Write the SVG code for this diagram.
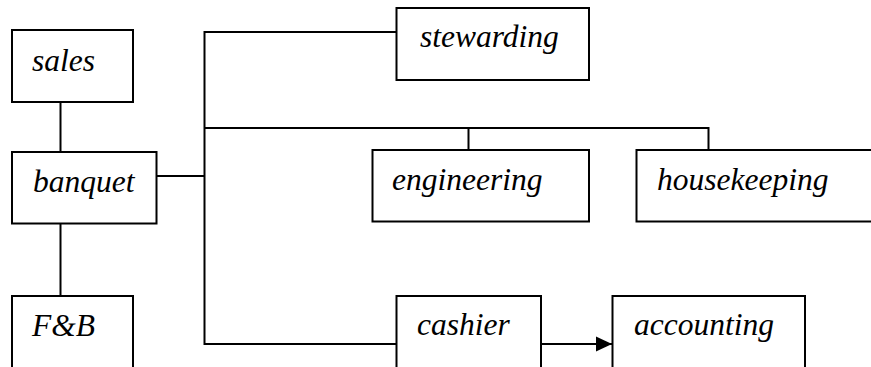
<svg xmlns="http://www.w3.org/2000/svg" width="871" height="367" viewBox="0 0 871 367">
<style>
.box{fill:#fff;stroke:#000;stroke-width:2}
.ln{fill:none;stroke:#000;stroke-width:2}
.t{font-family:'Liberation Serif', 'Times New Roman', serif;font-style:italic;font-size:31.5px;fill:#000}
</style>
<defs>
<marker id="arr" markerUnits="userSpaceOnUse" markerWidth="16" markerHeight="16" refX="16" refY="8" orient="auto">
<path d="M0,0.5 L16,8 L0,15.5 Z" fill="#000"/>
</marker>
</defs>
<rect width="871" height="367" fill="#fff"/>
<g id="connectors">
<path class="ln" d="M60.5,102 V152"/>
<path class="ln" d="M60.5,223.5 V296"/>
<path class="ln" d="M156.5,176 H204.5"/>
<path class="ln" d="M396.5,32 H204.5 V344 H396.5"/>
<path class="ln" d="M204.5,128 H708.5 V150"/>
<path class="ln" d="M468.5,128 V150"/>
<path class="ln" d="M541,344 H612" marker-end="url(#arr)"/>
</g>
<g id="sales"><rect class="box" x="12" y="30" width="121" height="72"/><text class="t" x="32" y="71">sales</text></g>
<g id="banquet"><rect class="box" x="12" y="152" width="144.5" height="71.5"/><text class="t" x="33" y="192">banquet</text></g>
<g id="fb"><rect class="box" x="12" y="296" width="121" height="90"/><text class="t" x="32" y="336">F&amp;B</text></g>
<g id="stewarding"><rect class="box" x="396.5" y="8" width="192.5" height="72"/><text class="t" x="420" y="47">stewarding</text></g>
<g id="engineering"><rect class="box" x="372.5" y="150" width="216.5" height="71.5"/><text class="t" x="392" y="190">engineering</text></g>
<g id="housekeeping"><rect class="box" x="636.5" y="150" width="250" height="71.5"/><text class="t" x="657" y="190">housekeeping</text></g>
<g id="cashier"><rect class="box" x="396.5" y="296" width="144.5" height="90"/><text class="t" x="417" y="335">cashier</text></g>
<g id="accounting"><rect class="box" x="612.5" y="296" width="192.5" height="90"/><text class="t" x="634" y="335">accounting</text></g>
</svg>
